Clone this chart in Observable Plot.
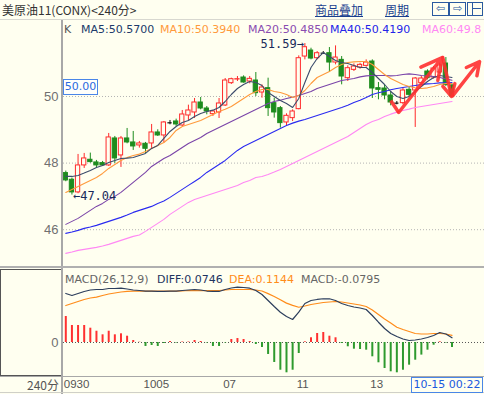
<!DOCTYPE html>
<html><head><meta charset="utf-8">
<script src="https://cdn.jsdelivr.net/npm/d3@7"></script>
<script src="https://cdn.jsdelivr.net/npm/@observablehq/plot@0.6"></script>
<style>
body{margin:0;background:#fffff0;}
#wrap{position:relative;width:484px;height:394px;overflow:hidden;background:#fffff0;font-family:"Liberation Sans",Arial,sans-serif;}
.abs{position:absolute;white-space:nowrap;}
.leg{font:11px "DejaVu Sans",sans-serif;line-height:14px;}
.cjk{font:12px "Noto Sans CJK SC",sans-serif;line-height:15px;}
</style></head><body>
<div id="wrap">
  <div id="price" class="abs" style="left:0;top:20px"></div>
  <div id="macd" class="abs" style="left:0;top:268px"></div>

  <!-- frame lines -->
  <div class="abs" style="left:0;top:19px;width:484px;height:1px;background:#d8d8d0"></div>
  <div class="abs" style="left:61px;top:20px;width:2px;height:374px;background:#a8a8a8"></div>
  <div class="abs" style="left:0;top:266px;width:484px;height:2px;background:#b0b0b0"></div>
  <div class="abs" style="left:0;top:376px;width:484px;height:1px;background:#a8a8a8"></div>
  <div class="abs" style="left:0;top:392px;width:484px;height:1px;background:#d0d0c8"></div>
  <div class="abs" style="left:0;top:269px;width:60px;height:105px;border:1px solid #555;border-right:none"></div>

  <!-- header -->
  <div class="abs cjk" style="left:2px;top:2px;color:#333">美原油11(CONX)&lt;240分&gt;</div>
  <div class="abs cjk" style="left:315px;top:2px;color:#1a3f8f;text-decoration:underline">商品叠加</div>
  <div class="abs cjk" style="left:385px;top:2px;color:#1a3f8f;text-decoration:underline">周期</div>
  <div class="abs" style="left:432px;top:2px;width:15px;height:12px;border:1px solid #2a5aa0;color:#2a5aa0;font:11px 'DejaVu Sans';line-height:12px;text-align:center">⇦</div>
  <div class="abs" style="left:449px;top:2px;width:15px;height:12px;border:1px solid #2a5aa0;color:#2a5aa0;font:11px 'DejaVu Sans';line-height:12px;text-align:center">⇨</div>
  <div class="abs" style="left:467px;top:2px;width:14px;height:12px;border:1px solid #2a5aa0"></div>
  <div class="abs" style="left:472px;top:3px;width:1px;height:12px;background:#2a5aa0"></div>
  <div class="abs" style="left:473px;top:8px;width:8px;height:1px;background:#2a5aa0"></div>

  <!-- MA legend -->
  <div class="abs leg" style="left:64px;top:23px;color:#555">K</div>
  <div class="abs leg" style="left:81px;top:23px;color:#203a6a">MA5:50.5700</div>
  <div class="abs leg" style="left:160px;top:23px;color:#ff9a3c">MA10:50.3940</div>
  <div class="abs leg" style="left:248px;top:23px;color:#8a4cb0">MA20:50.4850</div>
  <div class="abs leg" style="left:330px;top:23px;color:#2424e8">MA40:50.4190</div>
  <div class="abs leg" style="left:422px;top:23px;color:#ff88f4">MA60:49.8</div>

  <!-- price tag -->
  <div class="abs leg" style="left:63px;top:79px;width:33px;height:14px;border:1px solid #4a86e8;background:#fffffa;color:#2a6adf;text-align:center">50.00</div>

  <!-- MACD legend -->
  <div class="abs leg" style="left:65px;top:273px;color:#666">MACD(26,12,9)</div>
  <div class="abs leg" style="left:157px;top:273px;color:#1e3460">DIFF:0.0746</div>
  <div class="abs leg" style="left:229px;top:273px;color:#ff8c1a">DEA:0.1144</div>
  <div class="abs leg" style="left:301px;top:273px;color:#666">MACD:-0.0795</div>

  <!-- bottom row -->
  <div class="abs cjk" style="left:27px;top:377px;color:#555">240分</div>
  <div class="abs leg" style="left:411px;top:377px;width:70px;height:14px;border:1px solid #4a86e8;color:#1a5adf;text-align:center">10-15 00:22</div>
</div>
<script>
// ---- candle data (240-minute bars) ----
const open = [47.70,47.50,47.12,47.93,48.10,48.02,48.00,47.93,48.74,48.23,
 48.74,48.62,48.53,48.58,48.59,48.92,48.83,49.21,49.25,49.13,
 49.43,49.52,49.82,49.64,49.47,49.52,49.73,50.40,50.51,50.57,
 50.45,50.48,50.12,50.25,49.80,49.65,49.22,49.35,49.62,51.20,
 51.38,51.15,51.30,51.30,51.02,51.10,50.55,50.80,50.87,50.92,
 51.05,50.25,50.24,50.03,49.80,49.80,50.20,50.18,50.40,50.75,
 50.57,50.72,50.99,50.33];
const high = [47.76,47.55,48.26,48.29,48.30,48.08,48.05,48.89,48.80,48.80,
 49.04,48.95,48.65,48.62,49.16,49.00,49.25,49.28,49.32,49.58,
 49.74,49.94,49.97,49.70,49.58,49.94,50.54,50.55,50.60,50.62,
 50.60,50.72,50.35,50.55,49.95,49.70,49.48,49.60,51.22,51.59,
 51.45,51.35,51.35,51.47,51.52,51.20,50.92,50.98,51.00,51.10,
 51.10,50.42,50.35,50.15,49.85,50.25,50.30,50.57,50.60,50.80,
 50.90,51.00,51.17,50.38];
const low = [47.44,47.04,47.08,47.84,48.00,47.85,47.90,47.90,47.99,47.87,
 48.58,48.38,48.45,48.29,48.44,48.80,48.60,49.15,49.10,49.10,
 49.28,49.34,49.60,49.45,49.40,49.34,49.70,50.36,50.45,50.40,
 50.38,50.00,49.95,49.40,49.35,49.05,49.12,49.25,49.60,51.10,
 51.10,51.10,51.28,50.72,50.95,50.35,50.45,50.75,50.82,50.88,
 49.94,49.90,49.90,49.72,49.75,49.75,49.98,49.07,50.35,50.50,
 50.52,50.68,50.30,49.97];
const close = [47.48,47.12,47.93,48.14,48.03,47.93,47.93,48.77,48.14,48.74,
 48.62,48.50,48.59,48.43,48.92,48.83,49.22,49.21,49.16,49.46,
 49.58,49.82,49.64,49.55,49.55,49.79,50.48,50.52,50.52,50.42,
 50.53,50.10,50.27,49.65,49.52,49.20,49.42,49.55,51.15,51.48,
 51.14,51.30,51.30,51.02,51.17,50.60,50.85,50.90,50.95,51.02,
 50.24,50.20,50.03,49.82,49.80,50.18,50.05,50.54,50.54,50.55,
 50.84,50.93,50.35,50.00];

// ---- moving averages ----
const ma5 = [47.60,47.60,47.63,47.70,47.78,47.87,47.93,48.02,48.08,48.14,
 48.15,48.17,48.23,48.29,48.44,48.53,48.74,48.95,49.10,49.22,
 49.28,49.40,49.49,49.55,49.59,49.67,49.85,50.06,50.24,50.36,
 50.45,50.42,50.33,50.12,50.00,49.88,49.79,49.67,49.94,50.42,
 50.87,51.14,51.32,51.20,51.08,51.02,50.99,50.93,50.87,50.87,
 50.72,50.54,50.36,50.15,50.00,49.94,50.00,50.15,50.30,50.45,
 50.57,50.63,50.60,50.57];
const ma10 = [47.12,47.21,47.30,47.39,47.48,47.57,47.69,47.84,47.96,48.08,
 48.17,48.23,48.27,48.35,48.44,48.53,48.62,48.77,48.98,49.10,
 49.16,49.22,49.28,49.37,49.46,49.55,49.62,49.70,49.82,49.94,
 50.06,50.15,50.21,50.21,50.15,50.12,50.06,49.97,50.03,50.18,
 50.39,50.57,50.66,50.75,50.87,50.96,51.02,51.04,51.05,51.05,
 50.96,50.81,50.66,50.54,50.45,50.36,50.30,50.26,50.24,50.26,
 50.30,50.36,50.39,50.39];
const ma20 = [46.16,46.25,46.34,46.46,46.58,46.70,46.79,46.91,47.00,47.12,
 47.27,47.42,47.57,47.72,47.90,48.02,48.14,48.23,48.35,48.47,
 48.59,48.68,48.77,48.89,48.98,49.07,49.16,49.25,49.34,49.43,
 49.52,49.61,49.70,49.79,49.85,49.89,49.94,49.98,50.03,50.09,
 50.15,50.24,50.30,50.36,50.42,50.48,50.51,50.54,50.59,50.62,
 50.63,50.63,50.63,50.62,50.63,50.66,50.68,50.66,50.63,50.62,
 50.60,50.57,50.53,50.49];
const ma40 = [45.89,45.93,45.98,46.04,46.08,46.13,46.19,46.25,46.31,46.37,
 46.44,46.52,46.58,46.64,46.70,46.79,46.86,46.97,47.09,47.21,
 47.33,47.45,47.57,47.72,47.84,47.96,48.08,48.23,48.38,48.50,
 48.59,48.68,48.77,48.86,48.95,49.04,49.13,49.20,49.26,49.31,
 49.37,49.43,49.49,49.55,49.61,49.67,49.74,49.82,49.89,49.97,
 50.06,50.11,50.15,50.20,50.24,50.27,50.30,50.33,50.36,50.38,
 50.39,50.41,50.41,50.42];
const ma60 = [45.29,45.33,45.38,45.41,45.44,45.47,45.51,45.56,45.62,45.68,
 45.74,45.80,45.84,45.95,46.07,46.19,46.31,46.46,46.58,46.70,
 46.82,46.91,46.97,47.03,47.09,47.15,47.21,47.27,47.33,47.42,
 47.48,47.57,47.60,47.66,47.73,47.81,47.90,47.99,48.08,48.17,
 48.26,48.35,48.44,48.53,48.62,48.71,48.80,48.92,49.04,49.16,
 49.25,49.31,49.40,49.47,49.53,49.58,49.62,49.67,49.70,49.73,
 49.76,49.79,49.82,49.85];

// ---- MACD ----
const diff = [0.778,0.746,0.778,0.810,0.833,0.841,0.841,0.857,0.857,0.862,
 0.849,0.833,0.825,0.817,0.817,0.810,0.810,0.817,0.817,0.825,
 0.833,0.841,0.833,0.817,0.810,0.810,0.841,0.865,0.878,0.873,
 0.862,0.825,0.762,0.667,0.571,0.481,0.413,0.365,0.481,0.619,
 0.667,0.683,0.694,0.694,0.667,0.619,0.587,0.563,0.548,0.524,
 0.429,0.322,0.222,0.143,0.095,0.056,0.032,0.040,0.056,0.079,
 0.111,0.159,0.135,0.0746];
const dea = [0.587,0.619,0.651,0.683,0.706,0.719,0.746,0.770,0.786,0.802,
 0.810,0.817,0.817,0.817,0.817,0.817,0.817,0.817,0.817,0.821,
 0.825,0.825,0.825,0.825,0.825,0.825,0.833,0.841,0.841,0.841,
 0.841,0.833,0.817,0.776,0.730,0.680,0.625,0.590,0.560,0.579,
 0.603,0.619,0.635,0.643,0.651,0.643,0.627,0.611,0.595,0.571,
 0.516,0.444,0.373,0.310,0.243,0.206,0.175,0.143,0.135,0.135,
 0.143,0.143,0.135,0.1144];
const macdHist = [0.413,0.270,0.270,0.270,0.227,0.179,0.122,0.179,0.122,0.138,
 0.100,0.032,0.005,-0.063,-0.048,-0.063,-0.016,0.016,-0.008,0.008,
 0.008,0.032,0.016,-0.008,-0.063,-0.063,-0.008,0.048,0.063,0.048,
 0.016,-0.032,-0.079,-0.190,-0.317,-0.440,-0.481,-0.440,-0.175,0.011,
 0.075,0.143,0.159,0.100,0.075,-0.016,-0.068,-0.106,-0.111,-0.122,
 -0.227,-0.322,-0.413,-0.465,-0.481,-0.440,-0.360,-0.281,-0.200,-0.122,
 -0.043,0.011,-0.008,-0.0795];

// ---- axis ticks ----
const priceTicks = [46, 48, 50];
const macdTicks = [0];
const xTickIndex = [0, 13, 26, 38, 50];
const xTickLabel = ["0930", "1005", "07", "11", "13"];

// ---- hand-drawn red arrows (bar index, price) ----
const arrowX1 = [54.3, 61.5, 63.1];
const arrowY1 = [49.52, 51.17, 50.02];
const arrowX2 = [61.4, 62.9, 67.5];
const arrowY2 = [51.17, 50.00, 51.05];
const tailX1 = [53.0], tailY1 = [49.88], tailX2 = [54.3], tailY2 = [49.52];

// ---- build ----
const BG = "#fffff0", RED = "#ff2a2a", GREEN = "#1e8c1e", BLACK = "#111";
const idx = d3.range(open.length);
const candles = idx.map(i => ({i, o: open[i], h: high[i], l: low[i], c: close[i]}));
const up = candles.filter(d => d.c > d.o);
const down = candles.filter(d => d.c < d.o);
const doji = candles.filter(d => d.c === d.o);
const hw = 0.35;
const xDomain = [-0.375, 68.3];
const maxI = d3.maxIndex(high), minI = d3.minIndex(low);

const maLine = (arr, color, w) => Plot.line(idx, {x: i => i, y: i => arr[i], stroke: color, strokeWidth: w});

const price = Plot.plot({
  width: 484, height: 247,
  marginLeft: 63, marginRight: 0, marginTop: 0, marginBottom: 0,
  x: {domain: xDomain, axis: null},
  y: {domain: [44.865, 52.282]},
  style: {background: "transparent", fontFamily: "Liberation Sans", fontSize: "13px", color: "#707070"},
  marks: [
    Plot.gridY(priceTicks, {stroke: "#b4b4b4", strokeOpacity: 1, strokeDasharray: "1,2"}),
    Plot.axisY(priceTicks, {tickSize: 0, tickPadding: 5, fill: "#707070", fontSize: 13, tickFormat: d => String(d)}),
    Plot.ruleX(up, {x: "i", y1: "l", y2: "h", stroke: RED}),
    Plot.ruleX(down, {x: "i", y1: "l", y2: "h", stroke: GREEN}),
    Plot.ruleX(doji, {x: "i", y1: "l", y2: "h", stroke: BLACK}),
    Plot.rect(up, {x1: d => d.i - hw, x2: d => d.i + hw, y1: "o", y2: "c", fill: BG, stroke: RED}),
    Plot.rect(down, {x1: d => d.i - hw, x2: d => d.i + hw, y1: "o", y2: "c", fill: GREEN, stroke: GREEN}),
    Plot.ruleY(doji, {y: "o", x1: d => d.i - hw, x2: d => d.i + hw, stroke: BLACK, strokeWidth: 1.2}),
    maLine(ma60, "#ff88f4", 1.1),
    maLine(ma40, "#2a2af0", 1.1),
    maLine(ma20, "#7a44a8", 1.1),
    maLine(ma10, "#ff9a3c", 1.1),
    maLine(ma5, "#3c4c6c", 1.1),
    Plot.text([maxI], {x: i => i, y: i => high[i], text: i => high[i].toFixed(2) + "→", textAnchor: "end", dx: -1, dy: 1, fill: "#1a2a5a", fontFamily: "DejaVu Sans Mono", fontSize: 12}),
    Plot.text([minI], {x: i => i, y: i => low[i], text: i => "←" + low[i].toFixed(2), textAnchor: "start", dx: 1, dy: 1, fill: "#1a2a5a", fontFamily: "DejaVu Sans Mono", fontSize: 12}),
    Plot.link(tailX1, {x1: (d, k) => tailX1[k], y1: (d, k) => tailY1[k], x2: (d, k) => tailX2[k], y2: (d, k) => tailY2[k], stroke: "#ff3030", strokeWidth: 3.5, strokeOpacity: 0.9}),
    Plot.arrow(arrowX1, {x1: (d, k) => arrowX1[k], y1: (d, k) => arrowY1[k], x2: (d, k) => arrowX2[k], y2: (d, k) => arrowY2[k], stroke: "#ff3030", strokeWidth: 3.5, strokeOpacity: 0.9, headLength: 12, headAngle: 55})
  ]
});
document.getElementById("price").appendChild(price);

const macd = Plot.plot({
  width: 484, height: 126,
  marginLeft: 63, marginRight: 0, marginTop: 0, marginBottom: 18,
  x: {domain: xDomain},
  y: {domain: [-0.5397, 1.1746]},
  style: {background: "transparent", fontFamily: "Liberation Sans", fontSize: "12px", color: "#666"},
  marks: [
    Plot.ruleY(macdTicks, {stroke: "#555", strokeDasharray: "1,2"}),
    Plot.ruleX(idx.filter(i => macdHist[i] > 0), {x: i => i, y1: 0, y2: i => macdHist[i], stroke: "#ff3030", strokeWidth: 2}),
    Plot.ruleX(idx.filter(i => macdHist[i] < 0), {x: i => i, y1: 0, y2: i => macdHist[i], stroke: "#2e9a2e", strokeWidth: 2}),
    Plot.line(idx, {x: i => i, y: i => dea[i], stroke: "#ff8c1a", strokeWidth: 1.2}),
    Plot.line(idx, {x: i => i, y: i => diff[i], stroke: "#2c3e5c", strokeWidth: 1.2}),
    Plot.axisY(macdTicks, {tickSize: 0, tickPadding: 5, fill: "#707070", fontSize: 13, tickFormat: d => String(d)}),
    Plot.axisX(xTickIndex, {tickSize: 0, tickPadding: 3, textAnchor: "start", dx: -2, fill: "#555", fontSize: 11.5,
      tickFormat: d => xTickLabel[xTickIndex.indexOf(d)]})
  ]
});
document.getElementById("macd").appendChild(macd);
</script>
</body></html>
